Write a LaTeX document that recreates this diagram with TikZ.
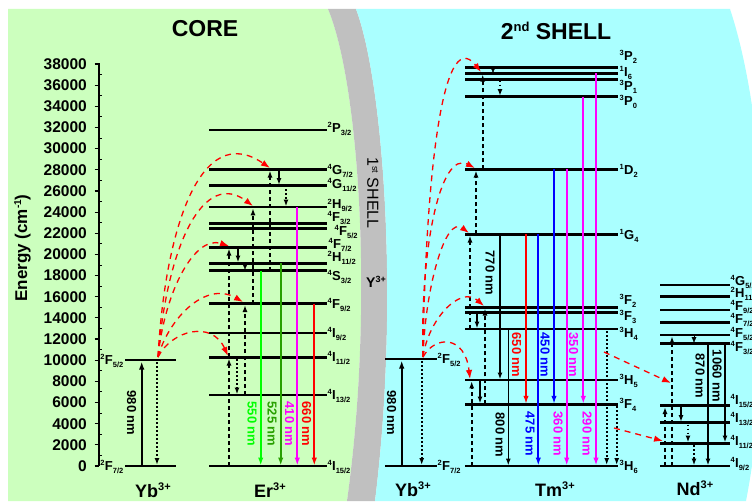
\documentclass[tikz,border=0pt]{standalone}
\usepackage{fontspec}
\setmainfont{Liberation Sans}
\usetikzlibrary{arrows.meta}
\definecolor{bggreen}{RGB}{204,255,190}
\definecolor{bggray}{RGB}{192,192,192}
\definecolor{bgcyan}{RGB}{170,255,255}
\definecolor{brgreen}{RGB}{0,255,0}
\definecolor{dkgreen}{RGB}{40,160,0}
\definecolor{mag}{RGB}{255,0,255}
\definecolor{rd}{RGB}{255,0,0}
\definecolor{bl}{RGB}{0,0,255}
\newcommand{\lbl}[3]{\raisebox{4.5pt}{\fontsize{7.5}{7.5}\selectfont #1}\kern0.3pt#2\raisebox{-3.2pt}{\fontsize{7.5}{7.5}\selectfont #3}}
\newcommand{\ionlbl}[1]{#1\raisebox{7pt}{\fontsize{11}{11}\selectfont 3+}}
\begin{document}
\begin{tikzpicture}[x=1pt,y=-1pt,
  lvl/.style={line width=2.9pt},
  sarr/.style={line width=1.8pt,-{Latex[length=8pt,width=5.5pt]}},
  thin arr/.style={line width=1.5pt,-{Latex[length=7pt,width=5pt]}},
  dsh/.style={line width=1.7pt,dash pattern=on 4pt off 3pt,-{Latex[length=7pt,width=5pt]}},
  dts/.style={line width=1.8pt,dash pattern=on 1.6pt off 2.4pt,-{Latex[length=7pt,width=5pt]}},
  et/.style={rd,line width=1.3pt,dash pattern=on 6pt off 5pt,-{Latex[length=9pt,width=6.5pt]}},
  lab/.style={font=\bfseries\fontsize{13}{13}\selectfont,inner sep=0.5pt},
  tick/.style={font=\bfseries\fontsize{15.5}{15.5}\selectfont,inner sep=0pt},
  nm/.style={font=\bfseries\fontsize{13}{13}\selectfont,rotate=-90,inner sep=0pt},
  ion/.style={font=\bfseries\fontsize{18}{18}\selectfont,inner sep=0pt},
  ttl/.style={font=\bfseries\fontsize{23}{23}\selectfont,inner sep=0pt}]
\useasboundingbox (0,0) rectangle (752,503);
\fill[white] (0,0) rectangle (752,503);
% backgrounds
\fill[bggreen] (8,9) -- (328,9) .. controls (358,80) and (375,300) .. (347,501) -- (8,501) -- cycle;
\fill[bggray] (328,9) -- (356,9) .. controls (383,80) and (400,300) .. (375,501) -- (347,501) .. controls (375,300) and (358,80) .. (328,9) -- cycle;
\fill[bgcyan] (356,9) -- (730,9) .. controls (770,130) and (775,350) .. (746,501) -- (375,501) .. controls (400,300) and (383,80) .. (356,9) -- cycle;
% titles
\node[ttl] (core) at (205,28.5) {CORE};
\node[ttl] (shell2) at (556,31) {2\raisebox{8pt}{\fontsize{13}{13}\selectfont nd} SHELL};
\node[font=\fontsize{16}{16}\selectfont,rotate=-90,inner sep=0pt] (shell1) at (373,193) {1\raisebox{5pt}{\fontsize{9}{9}\selectfont st} SHELL};
\node[font=\bfseries\fontsize{14}{14}\selectfont,inner sep=0pt] (y3) at (376,282) {Y\raisebox{5pt}{\fontsize{9}{9}\selectfont 3+}};
% axis
\draw[line width=1.3pt] (99,466) -- (99,63.5);
\foreach \k in {0,...,19}{
  \draw[line width=1.2pt] (94.5,{466-\k*21.158}) -- (99,{466-\k*21.158});
  \node[tick,anchor=east] (t\k) at (87,{466-\k*21.158}) {\number\numexpr\k*2000\relax};
}
\foreach \k in {0,...,18}{
  \draw[line width=1pt] (99,{455.42-\k*21.158}) -- (102,{455.42-\k*21.158});
}
\node[font=\bfseries\fontsize{17}{17}\selectfont,rotate=90,inner sep=0pt] (ylab) at (22.5,248) {Energy (cm\raisebox{6pt}{\fontsize{10}{10}\selectfont -1})};
% ---------- Yb left ----------
\draw[lvl] (125,360) -- (176,360);
\draw[lvl] (125,466) -- (176,466);
\node[lab,anchor=east] (ybl1) at (124,361) {\lbl{2}{F}{5/2}};
\node[lab,anchor=east] (ybl0) at (124,467) {\lbl{2}{F}{7/2}};
\draw[sarr] (141.7,466) -- (141.7,361.5);
\draw[dts] (157,362) -- (157,465);
\node[nm] (nm980a) at (131.5,413) {980 nm};
\node[ion] (ybA) at (153,490) {\ionlbl{Yb}};
% ---------- Er ----------
\foreach \y in {130,169.3,185.7,207,223.4,228.2,247.3,263.3,270.7,303.7,333,357.3,395,466}
  \draw[lvl] (209,\y) -- (327,\y);
\node[lab,anchor=west] (e1) at (327,129) {\lbl{2}{P}{3/2}};
\node[lab,anchor=west] (e2) at (327,171) {\lbl{4}{G}{7/2}};
\node[lab,anchor=west] (e3) at (327,185) {\lbl{4}{G}{11/2}};
\node[lab,anchor=west] (e4) at (327,205.5) {\lbl{2}{H}{9/2}};
\node[lab,anchor=west] (e5) at (327,218) {\lbl{4}{F}{3/2}};
\node[lab,anchor=west] (e6) at (334,232) {\lbl{4}{F}{5/2}};
\node[lab,anchor=west] (e7) at (328,245) {\lbl{4}{F}{7/2}};
\node[lab,anchor=west] (e8) at (327,258) {\lbl{2}{H}{11/2}};
\node[lab,anchor=west] (e9) at (327,277) {\lbl{4}{S}{3/2}};
\node[lab,anchor=west] (e10) at (327,305) {\lbl{4}{F}{9/2}};
\node[lab,anchor=west] (e11) at (327,334) {\lbl{4}{I}{9/2}};
\node[lab,anchor=west] (e12) at (327,358) {\lbl{4}{I}{11/2}};
\node[lab,anchor=west] (e13) at (327,396) {\lbl{4}{I}{13/2}};
\node[lab,anchor=west] (e14) at (327,467) {\lbl{4}{I}{15/2}};
% Er absorption (black dashed)
\draw[dsh] (229,466) -- (229,358.5);
\draw[dsh] (229,357.3) -- (229,248.5);
\draw[dsh] (245,395) -- (245,305);
\draw[dsh] (253,303.7) -- (253,208.3);
\draw[dsh] (270,270.7) -- (270,170.5);
% Er relaxations
\draw[thin arr] (238,248.5) -- (238,262.5);
\draw[-{Latex[length=6pt,width=5pt]}] (245,264) -- (245,270);
\draw[thin arr] (279,170.5) -- (279,185);
\draw[dts] (286,189) -- (286,206.5);
\draw[dts] (237,359) -- (237,394.5);
% Er emissions
\draw[sarr,brgreen] (260.7,270.7) -- (260.7,465.5);
\draw[sarr,dkgreen] (280.7,263.3) -- (280.7,465.5);
\draw[sarr,mag] (297.3,207) -- (297.3,465.5);
\draw[sarr,rd] (314.3,303.7) -- (314.3,465.5);
\node[nm,text=brgreen] (n550) at (252,424) {550 nm};
\node[nm,text=dkgreen] (n525) at (272,424) {525 nm};
\node[nm,text=mag] (n410) at (289.5,424) {410 nm};
\node[nm,text=rd] (n660) at (306.5,424) {660 nm};
\node[ion] (erA) at (270,490) {\ionlbl{Er}};
% Yb -> Er energy transfer
\coordinate (ybLt) at (158,357);
\draw[et] (ybLt) .. controls (165,230) and (200,120) .. (270,168);
\draw[et] (ybLt) .. controls (168,240) and (205,170) .. (253,206);
\draw[et] (ybLt) .. controls (165,290) and (195,235) .. (229,246);
\draw[et] (ybLt) .. controls (168,320) and (205,280) .. (243,302);
\draw[et] (ybLt) .. controls (172,330) and (212,320) .. (228,356);
% ---------- Yb right ----------
\draw[lvl] (385,359) -- (437,359);
\draw[lvl] (385,466) -- (437,466);
\node[lab,anchor=west] (ybr1) at (437,360) {\lbl{2}{F}{5/2}};
\node[lab,anchor=west] (ybr0) at (437,467) {\lbl{2}{F}{7/2}};
\draw[sarr] (401.7,466) -- (401.7,360.5);
\draw[dts] (421.7,361) -- (421.7,465);
\node[nm] (nm980b) at (391.5,413) {980 nm};
\node[ion] (ybB) at (413,489) {\ionlbl{Yb}};
% ---------- Tm ----------
\foreach \y in {67.7,73.3,79.3,96.7,169.3,234.3,307.3,312.7,329,380,404.3,466}
  \draw[lvl] (465,\y) -- (618,\y);
\node[lab,anchor=west] (m1) at (619,57) {\lbl{3}{P}{2}};
\node[lab,anchor=west] (m2) at (619,73) {\lbl{1}{I}{6}};
\node[lab,anchor=west] (m3) at (619,87) {\lbl{3}{P}{1}};
\node[lab,anchor=west] (m4) at (619,102) {\lbl{3}{P}{0}};
\node[lab,anchor=west] (m5) at (619,171) {\lbl{1}{D}{2}};
\node[lab,anchor=west] (m6) at (619,236) {\lbl{1}{G}{4}};
\node[lab,anchor=west] (m7) at (619,301) {\lbl{3}{F}{2}};
\node[lab,anchor=west] (m8) at (619,317) {\lbl{3}{F}{3}};
\node[lab,anchor=west] (m9) at (619,334) {\lbl{3}{H}{4}};
\node[lab,anchor=west] (m10) at (619,381) {\lbl{3}{H}{5}};
\node[lab,anchor=west] (m11) at (619,405) {\lbl{3}{F}{4}};
\node[lab,anchor=west] (m12) at (619,467) {\lbl{3}{H}{6}};
% Tm absorption (black dashed)
\draw[dsh] (482.7,169.3) -- (482.7,74.5);
\draw[dsh] (476,234.3) -- (476,170.5);
\draw[dsh] (470,329) -- (470,235.5);
\draw[dsh] (485,404.3) -- (485,308.5);
\draw[dsh] (471.7,466) -- (471.7,381.3);
\node[nm] (n770) at (490,273) {770 nm};
% Tm relaxations
\draw[-{Latex[length=6pt,width=5pt]}] (493,67.7) -- (493,73.3);
\draw[dts] (500,80.5) -- (500,96);
\draw[thin arr] (477,313.5) -- (477,328.5);
\draw[thin arr] (480,381) -- (480,403.5);
\draw[thin arr] (500,234.3) -- (500,379.5);
\draw[thin arr] (508.3,329) -- (508.3,465.5);
\node[nm] (n800) at (500,435) {800 nm};
% Tm emissions
\draw[sarr,rd] (526,234.3) -- (526,403.8);
\draw[sarr,bl] (538.3,234.3) -- (538.3,465.5);
\draw[sarr,bl] (554,169.3) -- (554,403.8);
\draw[sarr,mag] (566.7,169.3) -- (566.7,465.5);
\draw[sarr,mag] (583.3,96.7) -- (583.3,403.8);
\draw[sarr,mag] (596,73.3) -- (596,465.5);
\node[nm,text=rd] (n650) at (516.7,355) {650 nm};
\node[nm,text=bl] (n475) at (530,434) {475 nm};
\node[nm,text=bl] (n450) at (545,355) {450 nm};
\node[nm,text=mag] (n360) at (558,434) {360 nm};
\node[nm,text=mag] (n350) at (573.5,355) {350 nm};
\node[nm,text=mag] (n290) at (587,434) {290 nm};
\draw[dts] (606.7,331) -- (606.7,465);
\draw[dts] (616.7,406) -- (616.7,465);
\node[ion] (tmA) at (555,489) {\ionlbl{Tm}};
% Yb -> Tm energy transfer
\coordinate (ybRt) at (423,357);
\draw[et] (ybRt) .. controls (435,335) and (465,335) .. (470,379);
\draw[et] (ybRt) .. controls (428,320) and (460,285) .. (484,306);
\draw[et] (ybRt) .. controls (425,290) and (445,215) .. (469,233);
\draw[et] (ybRt) .. controls (420,250) and (440,150) .. (475,168);
\draw[et] (ybRt) .. controls (425,200) and (440,20) .. (481,72);
% ---------- Nd ----------
\foreach \y in {285,296.7,310,322.7,335,343.3,405.7,422.7,443.3,466}
  \draw[lvl] (660,\y) -- (730,\y);
\node[lab,anchor=west] (d1) at (730,282) {\lbl{4}{G}{5/2}};
\node[lab,anchor=west] (d2) at (730,294) {\lbl{2}{H}{11/2}};
\node[lab,anchor=west] (d3) at (730,307) {\lbl{4}{F}{9/2}};
\node[lab,anchor=west] (d4) at (730,320) {\lbl{4}{F}{7/2}};
\node[lab,anchor=west] (d5) at (730,334) {\lbl{4}{F}{5/2}};
\node[lab,anchor=west] (d6) at (730,348) {\lbl{4}{F}{3/2}};
\node[lab,anchor=west] (d7) at (730,401) {\lbl{4}{I}{15/2}};
\node[lab,anchor=west] (d8) at (730,419) {\lbl{4}{I}{13/2}};
\node[lab,anchor=west] (d9) at (730,442) {\lbl{4}{I}{11/2}};
\node[lab,anchor=west] (d10) at (730,464) {\lbl{4}{I}{9/2}};
\draw[dsh] (665,466) -- (665,407);
\draw[dsh] (672,466) -- (672,336.3);
\draw[-{Latex[length=6pt,width=5pt]}] (694,336) -- (694,343);
\draw[thin arr] (708,343.3) -- (708,465.5);
\draw[thin arr] (725,343.3) -- (725,442.5);
\node[nm] (n870) at (700,376) {870 nm};
\node[nm] (n1060) at (717,376) {1060 nm};
\draw[thin arr] (681,407) -- (681,422);
\draw[dts] (688,424.5) -- (688,442.5);
\draw[dts] (694,445) -- (694,465.5);
\node[ion] (ndA) at (695,488) {\ionlbl{Nd}};
% Tm -> Nd energy transfer
\coordinate (tmA1) at (604,352);
\coordinate (tmA2) at (614,428);
\draw[et] (tmA1) -- (671,383);
\draw[et] (tmA2) -- (663,441);
\end{tikzpicture}
\end{document}
